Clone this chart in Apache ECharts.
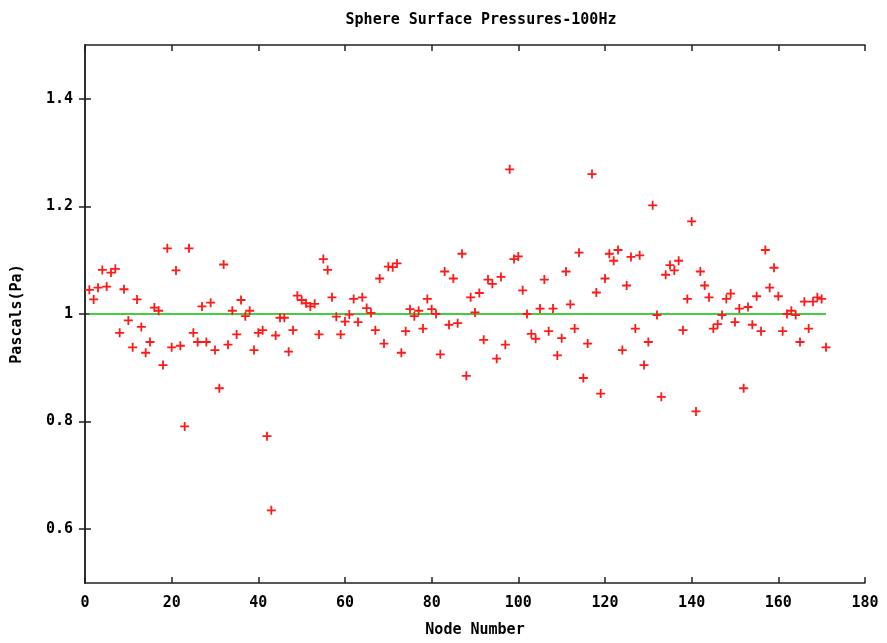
<!DOCTYPE html>
<html>
<head>
<meta charset="utf-8">
<script src="https://cdn.jsdelivr.net/npm/echarts@6/dist/echarts.min.js"></script>
<style>
  html, body { margin: 0; padding: 0; background: #fff; }
  #chart { width: 887px; height: 643px; }
</style>
</head>
<body>
<div id="chart"></div>
<script>
// pressure at node 1..171
const pressures = [
  1.045, 1.027, 1.049, 1.082, 1.051, 1.077, 1.084, 0.965, 1.046, 0.988,
  0.938, 1.027, 0.976, 0.928, 0.948, 1.012, 1.006, 0.905, 1.122, 0.938,
  1.081, 0.941, 0.791, 1.122, 0.965, 0.948, 1.014, 0.948, 1.021, 0.933,
  0.862, 1.092, 0.943, 1.006, 0.962, 1.026, 0.996, 1.006, 0.933, 0.965,
  0.970, 0.773, 0.635, 0.960, 0.993, 0.993, 0.930, 0.970, 1.034, 1.026,
  1.020, 1.014, 1.019, 0.962, 1.102, 1.082, 1.031, 0.995, 0.962, 0.986,
  0.999, 1.028, 0.985, 1.031, 1.011, 1.002, 0.970, 1.066, 0.945, 1.088,
  1.087, 1.094, 0.928, 0.968, 1.009, 0.996, 1.006, 0.973, 1.028, 1.009,
  1.000, 0.925, 1.079, 0.980, 1.066, 0.983, 1.112, 0.885, 1.031, 1.003,
  1.039, 0.952, 1.064, 1.056, 0.917, 1.069, 0.943, 1.269, 1.102, 1.107,
  1.044, 1.000, 0.963, 0.954, 1.010, 1.064, 0.968, 1.010, 0.923, 0.955,
  1.079, 1.018, 0.973, 1.114, 0.881, 0.945, 1.260, 1.040, 0.852, 1.066,
  1.112, 1.099, 1.119, 0.933, 1.053, 1.106, 0.973, 1.109, 0.905, 0.948,
  1.202, 0.998, 0.846, 1.073, 1.091, 1.081, 1.099, 0.970, 1.028, 1.172,
  0.819, 1.079, 1.053, 1.031, 0.973, 0.981, 0.998, 1.028, 1.038, 0.985,
  1.010, 0.862, 1.013, 0.980, 1.033, 0.968, 1.119, 1.049, 1.086, 1.033,
  0.968, 1.000, 1.006, 0.998, 0.948, 1.023, 0.973, 1.023, 1.031, 1.028,
  0.938
];
// reference level (1 Pa) drawn across the nodes
const refLine = [[1, 1], [171, 1]];
const yTicks = [0.6, 0.8, 1, 1.2, 1.4];

const points = pressures.map((v, i) => [i + 1, v]);

const labelFont = {
    fontFamily: 'DejaVu Sans Mono',
    fontWeight: 'bold',
    fontSize: 15,
    color: '#000'
};
const frameLine = {show: true, lineStyle: {color: '#222', width: 1.5}};
const inTick = {show: true, inside: true, length: 6, lineStyle: {color: '#222', width: 1.5}};
const plusPath = 'path://M0,4H4V0H6V4H10V6H6V10H4V6H0Z';

const myChart = echarts.init(document.getElementById('chart'));
const option = {
    animation: false,
    backgroundColor: '#fff',
    title: {
        text: 'Sphere Surface Pressures-100Hz',
        left: 476,
        textAlign: 'center',
        top: 8,
        textStyle: {fontFamily: 'DejaVu Sans Mono', fontWeight: 'bold', fontSize: 15, color: '#000'}
    },
    grid: {left: 85, right: 22, top: 45, bottom: 55},
    xAxis: [{
        type: 'value',
        min: 0, max: 180, interval: 20,
        position: 'bottom',
        name: 'Node Number',
        nameLocation: 'middle',
        nameGap: 40,
        nameTextStyle: labelFont,
        axisLine: frameLine,
        axisTick: inTick,
        axisLabel: Object.assign({margin: 13}, labelFont),
        splitLine: {show: false}
    }, {
        type: 'value',
        min: 0, max: 180, interval: 20,
        position: 'top',
        axisLine: frameLine,
        axisTick: inTick,
        axisLabel: {show: false},
        splitLine: {show: false}
    }],
    yAxis: [{
        type: 'value',
        min: 0.5, max: 1.5,
        position: 'left',
        name: 'Pascals(Pa)',
        nameLocation: 'middle',
        nameGap: 60,
        nameTextStyle: labelFont,
        axisLine: frameLine,
        axisTick: Object.assign({customValues: yTicks}, inTick),
        axisLabel: Object.assign({
            margin: 12,
            customValues: yTicks,
            formatter: (v) => (v === 1 ? '1' : v.toFixed(1))
        }, labelFont),
        splitLine: {show: false}
    }, {
        type: 'value',
        min: 0.5, max: 1.5,
        position: 'right',
        axisLine: frameLine,
        axisTick: Object.assign({customValues: yTicks}, inTick),
        axisLabel: {show: false},
        splitLine: {show: false}
    }],
    series: [{
        type: 'line',
        data: refLine,
        symbol: 'none',
        z: 1,
        lineStyle: {color: '#44cc44', width: 2}
    }, {
        type: 'scatter',
        data: points,
        symbol: plusPath,
        symbolSize: 9,
        z: 2,
        itemStyle: {color: '#ff1a1a', opacity: 1}
    }]
};
myChart.setOption(option);
</script>
</body>
</html>
